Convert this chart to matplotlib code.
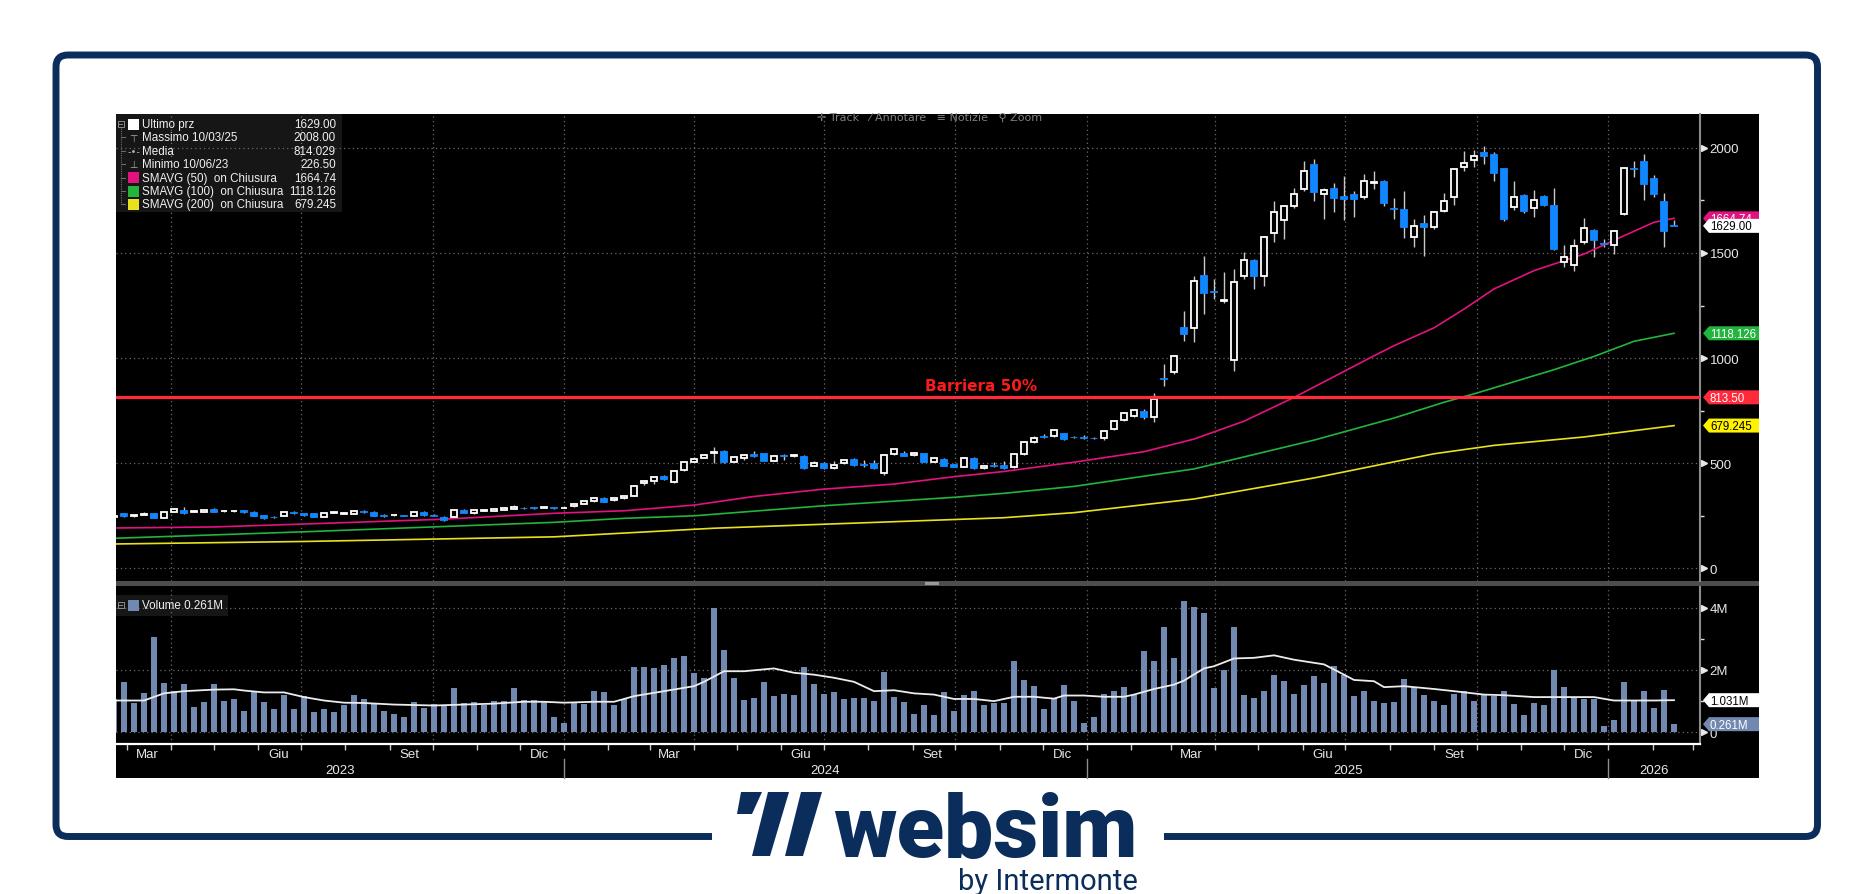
import matplotlib
matplotlib.use("Agg")
import matplotlib.pyplot as plt
from matplotlib.patches import Rectangle, FancyBboxPatch, Polygon
import numpy as np
import pandas as pd

W, H = 1874, 895

# ------------------------------------------
# dati settimanali
# ------------------------------------------
settimane = pd.date_range("2023-02-20", periods=157, freq="7D")

aperture = [243, 262, 250, 256, 262, 241, 270, 279, 269, 270, 282, 271, 271, 276, 270, 253, 245, 249, 270, 262,
            262, 244, 264, 261, 260, 275, 270, 255, 252, 253, 249, 270, 255, 246, 246, 276, 262, 273, 275, 280,
            284, 288, 292, 287, 292, 287, 295, 307, 320, 335, 323, 333, 345, 404, 417, 441, 409, 467, 508, 526,
            549, 557, 508, 524, 543, 549, 513, 537, 535, 535, 489, 502, 478, 500, 519, 495, 502, 455, 543, 547,
            538, 549, 508, 521, 495, 483, 525, 478, 490, 492, 480, 545, 600, 628, 630, 643, 626, 625, 622, 620,
            662, 706, 727, 747, 720, 905, 933, 1150, 1142, 1396, 1320, 1272, 991, 1392, 1467, 1390, 1594, 1655, 1723, 1806,
            1923, 1780, 1810, 1770, 1780, 1767, 1835, 1842, 1715, 1710, 1577, 1643, 1625, 1700, 1764, 1907, 1941, 1978, 1972, 1903,
            1720, 1777, 1716, 1773, 1726, 1455, 1442, 1552, 1609, 1549, 1539, 1687, 1905, 1936, 1857, 1748, 1632]
massimi = [252, 265, 254, 266, 265, 272, 288, 290, 275, 279, 285, 276, 276, 280, 272, 256, 248, 269, 274, 264,
           265, 264, 269, 268, 276, 278, 272, 257, 256, 255, 268, 272, 257, 248, 278, 284, 278, 281, 284, 290,
           300, 290, 294, 296, 294, 292, 309, 322, 340, 338, 335, 346, 396, 420, 436, 444, 463, 507, 528, 545,
           575, 562, 531, 544, 556, 551, 540, 545, 541, 540, 512, 505, 513, 521, 523, 514, 515, 544, 570, 556,
           553, 551, 527, 524, 498, 528, 528, 492, 505, 510, 548, 605, 628, 640, 665, 646, 630, 632, 625, 655,
           708, 745, 758, 760, 834, 972, 1012, 1222, 1392, 1487, 1376, 1408, 1424, 1503, 1472, 1582, 1749, 1729, 1808, 1939,
           1947, 1810, 1833, 1868, 1796, 1876, 1891, 1848, 1760, 1793, 1662, 1681, 1700, 1785, 1903, 1987, 1990, 2008, 1980, 1905,
           1841, 1780, 1801, 1778, 1808, 1538, 1567, 1665, 1612, 1567, 1610, 1905, 1939, 1971, 1870, 1785, 1658]
minimi = [240, 246, 243, 252, 239, 239, 268, 260, 266, 268, 266, 269, 269, 264, 247, 236, 240, 247, 260, 251,
          242, 242, 262, 258, 258, 264, 248, 245, 250, 247, 247, 251, 247, 226.5, 243, 263, 260, 271, 273, 278,
          282, 284, 284, 285, 284, 285, 293, 305, 318, 315, 321, 331, 343, 398, 400, 420, 405, 464, 505, 523,
          500, 500, 504, 515, 532, 509, 510, 515, 530, 472, 486, 472, 475, 497, 489, 480, 475, 444, 540, 533,
          535, 505, 505, 485, 480, 480, 472, 475, 484, 474, 476, 540, 596, 620, 625, 612, 618, 616, 614, 612,
          658, 700, 720, 712, 694, 866, 925, 1083, 1075, 1210, 1281, 1262, 940, 1376, 1329, 1344, 1551, 1567, 1712, 1795,
          1749, 1662, 1693, 1657, 1670, 1755, 1806, 1725, 1662, 1570, 1527, 1487, 1615, 1695, 1728, 1888, 1907, 1923, 1844, 1650,
          1706, 1690, 1673, 1725, 1515, 1435, 1413, 1545, 1482, 1530, 1495, 1683, 1860, 1754, 1768, 1527, 1627]
chiusure = [248, 249, 252, 258, 241, 270, 283, 262, 271, 276, 268, 273, 273, 266, 250, 241, 243, 266, 262, 255,
            244, 262, 266, 263, 273, 266, 250, 247, 254, 249, 266, 253, 249, 231, 276, 265, 276, 279, 282, 288,
            292, 286, 286, 294, 286, 289, 307, 320, 335, 318, 333, 343, 393, 415, 433, 425, 461, 504, 522, 541,
            553, 505, 528, 541, 536, 513, 533, 535, 537, 478, 502, 476, 494, 516, 492, 493, 478, 541, 567, 536,
            549, 508, 524, 489, 483, 525, 476, 489, 487, 478, 545, 600, 622, 626, 657, 616, 623, 622, 619, 652,
            703, 741, 752, 720, 807, 900, 1008, 1117, 1368, 1308, 1313, 1276, 1364, 1467, 1390, 1577, 1696, 1723, 1782, 1888,
            1788, 1799, 1760, 1755, 1755, 1841, 1839, 1740, 1711, 1625, 1627, 1625, 1694, 1746, 1898, 1928, 1962, 1962, 1882, 1662,
            1768, 1702, 1750, 1730, 1520, 1483, 1531, 1621, 1560, 1541, 1604, 1902, 1900, 1828, 1782, 1606, 1629]
volumi = [1.08, 1.62, 0.94, 1.25, 3.07, 1.59, 1.32, 1.56, 0.81, 0.96, 1.56, 1.00, 1.07, 0.68, 1.34, 0.96, 0.76, 1.21, 0.76, 1.16,
          0.65, 0.76, 0.65, 0.86, 1.20, 1.08, 0.91, 0.68, 0.60, 0.50, 0.96, 0.78, 0.92, 0.89, 1.43, 0.94, 0.96, 0.89, 1.00, 1.02,
          1.43, 1.05, 1.05, 0.98, 0.49, 0.31, 0.96, 0.91, 1.31, 1.29, 0.86, 1.07, 2.11, 2.11, 2.06, 2.17, 2.37, 2.45, 1.89, 1.75,
          4.00, 2.65, 1.75, 1.04, 1.10, 1.62, 1.17, 1.24, 1.20, 2.11, 1.56, 1.24, 1.30, 1.08, 1.10, 1.10, 1.00, 1.92, 1.14, 0.98,
          0.60, 0.86, 0.57, 1.29, 0.69, 1.21, 1.31, 0.86, 0.94, 0.94, 2.29, 1.68, 1.49, 0.76, 1.11, 1.52, 1.02, 0.31, 0.50, 1.23,
          1.31, 1.46, 1.21, 2.60, 2.28, 3.38, 2.40, 4.21, 4.03, 3.82, 1.43, 2.00, 3.39, 1.20, 1.11, 1.33, 1.85, 1.66, 1.23, 1.52,
          1.82, 1.59, 2.14, 1.85, 1.18, 1.34, 1.02, 0.94, 0.98, 1.71, 1.46, 1.21, 1.00, 0.89, 1.23, 1.33, 1.02, 1.23, 1.18, 1.31,
          0.91, 0.57, 0.94, 0.86, 1.99, 1.46, 1.10, 1.08, 1.08, 0.19, 0.40, 1.60, 0.99, 1.34, 0.77, 1.37, 0.261]

# medie mobili: (indice barra, valore)
sma50_idx = [0, 10, 19, 33, 44, 51, 58, 64, 71, 78, 84, 89, 96, 103, 108, 113, 118, 126, 128, 132, 135, 138, 142, 147, 151, 154, 156]
sma50_val = [192, 197, 211, 234, 262, 274, 301, 342, 377, 401, 436, 461, 505, 555, 615, 700, 813, 1011, 1059, 1144, 1233, 1329, 1416, 1495, 1582, 1646, 1665]
sma100_idx = [0, 19, 44, 51, 58, 71, 84, 89, 96, 108, 120, 128, 133, 136, 144, 148, 152, 156]
sma100_val = [143, 174, 219, 238, 250, 298, 338, 357, 390, 473, 610, 715, 790, 830, 945, 1008, 1080, 1118]
sma200_idx = [0, 19, 44, 60, 89, 96, 108, 120, 132, 138, 147, 156]
sma200_val = [116, 128, 150, 191, 241, 265, 330, 430, 545, 585, 625, 679]
volma_idx = [0, 3, 5, 7, 10, 12, 13, 15, 17, 19, 21, 23, 25, 28, 32, 35, 38, 41, 43, 45, 48, 50, 52, 55, 58, 59, 61, 63,
             66, 68, 70, 72, 74, 76, 78, 80, 82, 84, 86, 88, 90, 92, 94, 95, 97, 99, 101, 102, 104, 106, 107, 109, 110,
             112, 114, 116, 118, 121, 123, 124, 126, 127, 129, 132, 134, 137, 139, 142, 145, 148, 150, 154, 156]
volma_val = [1.02, 1.02, 1.25, 1.32, 1.37, 1.38, 1.34, 1.28, 1.28, 1.13, 1.02, 0.95, 0.94, 0.89, 0.86, 0.89, 0.92, 0.98,
             0.98, 0.95, 0.98, 0.98, 1.16, 1.32, 1.48, 1.62, 1.96, 1.96, 2.05, 1.91, 1.85, 1.75, 1.62, 1.32, 1.35, 1.25,
             1.21, 1.07, 1.07, 1.00, 1.14, 1.14, 1.08, 1.18, 1.18, 1.14, 1.14, 1.21, 1.39, 1.53, 1.66, 2.05, 2.12, 2.37,
             2.39, 2.47, 2.33, 2.18, 1.85, 1.68, 1.64, 1.45, 1.48, 1.39, 1.32, 1.21, 1.19, 1.13, 1.13, 1.13, 1.02, 1.02, 1.031]

barriera = 813.50
mesi_nomi = {3: "Mar", 6: "Giu", 9: "Set", 12: "Dic"}
anni = [2023, 2024, 2025, 2026]

legenda_nomi = ["Ultimo prz", "Massimo 10/03/25", "Media", "Minimo 10/06/23",
                "SMAVG (50)  on Chiusura", "SMAVG (100)  on Chiusura", "SMAVG (200)  on Chiusura"]
legenda_valori = ["1629.00", "2008.00", "814.029", "226.50", "1664.74", "1118.126", "679.245"]

# colori
NAVY = "#0b2d5b"
BLU = "#1187ff"
ROSA = "#e2137f"
VERDE = "#22b43c"
GIALLO = "#e8e21e"
ROSSO = "#ff2a3c"
VOLCOL = "#7189b0"
FONT = ["Liberation Sans", "DejaVu Sans"]
plt.rcParams["font.family"] = FONT


def pos(data):
    """posizione (in barre) di una data sull'asse"""
    return (pd.Timestamp(data) - settimane[0]).days / 7.0


fig = plt.figure(figsize=(W / 100, H / 100), dpi=100)
fig.patch.set_facecolor("white")

# sfondo / cornice in pixel
bg = fig.add_axes([0, 0, 1, 1])
bg.set_xlim(0, W)
bg.set_ylim(H, 0)
bg.axis("off")
bg.add_patch(FancyBboxPatch((56, 56), 1761.5, 781.5, boxstyle="round,pad=0,rounding_size=12",
                            fill=False, ec=NAVY, lw=5.0))
bg.add_patch(Rectangle((712, 820), 452, 40, fc="white", ec="none"))
bg.add_patch(Rectangle((116, 115), 1643, 664, fc="black", ec="none"))
# separatore tra i pannelli
bg.add_patch(Rectangle((116, 582), 1643, 5, fc="#4d4d4d", ec="none"))
bg.add_patch(Rectangle((925, 583), 14, 3, fc="#9a9a9a", ec="none"))

# logo
bg.add_patch(Polygon([(741, 793), (762, 793), (752, 815), (737, 815)], closed=True, fc=NAVY, ec="none"))
bg.add_patch(Polygon([(768, 793), (789, 793), (770, 857), (752, 857)], closed=True, fc=NAVY, ec="none"))
bg.add_patch(Polygon([(801, 793), (822, 793), (803, 857), (785, 857)], closed=True, fc=NAVY, ec="none"))
bg.text(1138, 857, "websim", color=NAVY, fontsize=63, fontweight="black", family="Roboto",
        ha="right", va="baseline")
bg.text(1138, 890, "by Intermonte", color=NAVY, fontsize=21, family="Roboto", ha="right", va="baseline")

# ------------------------------------------
# pannello prezzi e volumi
# ------------------------------------------
ax = fig.add_axes([116 / W, 1 - 582 / H, 1584 / W, 467 / H])
axv = fig.add_axes([116 / W, 1 - 745 / H, 1584 / W, 157 / H])
for a in (ax, axv):
    a.set_facecolor("black")
    a.set_xlim(0.2, 158.6)
    for s in ("top", "left", "bottom"):
        a.spines[s].set_visible(False)
    a.spines["right"].set_color("#8c8c8c")
    a.spines["right"].set_linewidth(1.5)
    a.yaxis.tick_right()

ax.set_ylim(-60, 2161)
axv.set_ylim(-0.376, 4.664)

# riquadro legenda (sotto la griglia)
ax.add_patch(Rectangle((0, (582 - 213) / 467), 226 / 1584, 98 / 467,
                       transform=ax.transAxes, fc="#161616", ec="none", zorder=0.5))
axv.add_patch(Rectangle((0, (745 - 617) / 157), 112 / 1584, 21 / 157,
                        transform=axv.transAxes, fc="#161616", ec="none", zorder=0.5))

x = np.arange(len(chiusure))
o = np.array(aperture, float)
c = np.array(chiusure, float)
hi = np.array(massimi, float)
lo = np.array(minimi, float)
su = c >= o
corpo = np.maximum(np.abs(c - o), 0.5)
base = np.minimum(o, c)

ax.vlines(x, lo, hi, color="#c8c8c8", lw=1.0, zorder=2)
ax.bar(x[su], corpo[su], bottom=base[su], width=0.62, fc="black", ec="white", lw=1.3, zorder=3)
ax.bar(x[~su], corpo[~su], bottom=base[~su], width=0.7, fc=BLU, ec=BLU, lw=0.6, zorder=3)

ax.plot(sma200_idx, sma200_val, color=GIALLO, lw=1.2, zorder=2.5)
ax.plot(sma100_idx, sma100_val, color=VERDE, lw=1.2, zorder=2.5)
ax.plot(sma50_idx, sma50_val, color=ROSA, lw=1.2, zorder=2.5)
ax.axhline(barriera, color=ROSSO, lw=2.3, zorder=4)
ax.text(pos("2024-10-19"), 872, "Barriera 50%", color="#ff1a1a", fontsize=11, family="DejaVu Sans",
        fontweight="bold", ha="center", va="center", zorder=5)

# griglia
trimestri = pd.date_range("2023-04-01", "2026-01-01", freq="QS")
for a in (ax, axv):
    for t in trimestri:
        a.axvline(pos(t), color="#6a6a6a", lw=0.9, ls=(0, (1, 2.5)), zorder=1)

ax.set_yticks([0, 500, 1000, 1500, 2000])
ax.set_yticks([250, 750, 1250, 1750], minor=True)
ax.grid(axis="y", which="major", color="#6a6a6a", lw=0.9, ls=(0, (1, 2.5)), zorder=1)
ax.set_xticks([])

axv.set_yticks([0, 2, 4])
axv.set_yticklabels(["0", "2M", "4M"])
axv.set_yticks([1, 3], minor=True)
axv.grid(axis="y", which="major", color="#6a6a6a", lw=0.9, ls=(0, (1, 2.5)), zorder=1)

for a in (ax, axv):
    a.tick_params(axis="y", which="major", length=0, pad=7, labelcolor="#e8e8e8", labelsize=9.5)
    a.tick_params(axis="y", which="minor", length=3, width=1, color="#dddddd")
    a.plot(np.full(len(a.get_yticks()), 1.0 + 4 / 1584), a.get_yticks(), ls="none", marker=">",
           ms=5, color="#e8e8e8", transform=a.get_yaxis_transform(), clip_on=False)

# volumi
axv.bar(x, volumi, width=0.6, color=VOLCOL, zorder=2)
axv.plot(volma_idx, volma_val, color="#ececec", lw=1.3, zorder=3)

axv.spines["bottom"].set_visible(True)
axv.spines["bottom"].set_color("white")
axv.spines["bottom"].set_linewidth(1.6)
inizi = pd.date_range("2023-03-01", "2026-03-01", freq="MS")
axv.set_xticks([pos(t) for t in inizi])
axv.set_xticklabels([""] * len(inizi))
axv.tick_params(axis="x", which="major", length=4, width=1, color="#cccccc")
meta = [t + pd.Timedelta(days=14) for t in inizi if t.month in mesi_nomi and t.year < 2026]
axv.set_xticks([pos(t) for t in meta], minor=True)
axv.set_xticklabels([mesi_nomi[t.month] for t in meta], minor=True)
axv.tick_params(axis="x", which="minor", length=0, pad=3, labelcolor="#e8e8e8", labelsize=9.5)

tr = axv.get_xaxis_transform()
lim_sx, lim_dx = axv.get_xlim()
confini = [lim_sx] + [pos(f"{a}-01-01") for a in anni[1:]] + [lim_dx]
for i, a in enumerate(anni):
    axv.text((confini[i] + confini[i + 1]) / 2, -0.166, str(a), transform=tr, color="#e8e8e8",
             fontsize=9.5, ha="center", va="center")
for b in confini[1:-1]:
    axv.plot([b, b], [-0.095, -0.217], transform=tr, color="#8c8c8c", lw=1, clip_on=False)

# ------------------------------------------
# sovrapposizioni: legende e etichette a destra
# ------------------------------------------
ov = fig.add_axes([0, 0, 1, 1])
ov.set_xlim(0, W)
ov.set_ylim(H, 0)
ov.axis("off")
ov.patch.set_alpha(0)


def y_pix(a, v):
    return H - a.transData.transform((0, v))[1]


def etichetta(a, v, testo, sfondo, colore):
    y = y_pix(a, v)
    ov.add_patch(Polygon([(1703, y), (1709, y - 7), (1759, y - 7), (1759, y + 7), (1709, y + 7)],
                         closed=True, fc=sfondo, ec="none"))
    ov.text(1710, y + 0.5, testo, color=colore, fontsize=8.3, ha="left", va="center")


etichetta(ax, float(legenda_valori[4]), legenda_valori[4], ROSA, "white")
etichetta(ax, chiusure[-1], legenda_valori[0], "white", "black")
etichetta(ax, float(legenda_valori[5]), legenda_valori[5], VERDE, "white")
etichetta(ax, barriera, f"{barriera:.2f}", ROSSO, "white")
etichetta(ax, float(legenda_valori[6]), legenda_valori[6], "#fff200", "black")
etichetta(axv, volma_val[-1], f"{volma_val[-1]:.3f}M", "white", "black")
etichetta(axv, volumi[-1], f"{volumi[-1]:.3f}M", VOLCOL, "white")


def comprimi(xc, yc):
    ov.add_patch(Rectangle((xc - 3, yc - 3), 6, 6, fc="none", ec="#8a8a8a", lw=0.7))
    ov.plot([xc - 1.5, xc + 1.5], [yc, yc], color="#8a8a8a", lw=0.7)


# legenda prezzi
righe_y = [125 + i * 13.4 for i in range(len(legenda_nomi))]
ov.plot([121, 121], [129, righe_y[-1]], color="#6a6a6a", lw=0.8, ls=(0, (1, 1)))
comprimi(121, 125)
col_icone = ["white", None, None, None, ROSA, VERDE, GIALLO]
simboli = [None, "\u22a4", "-\u2022-", "\u22a5", None, None, None]
for i, (nome, val) in enumerate(zip(legenda_nomi, legenda_valori)):
    y = righe_y[i]
    if i > 0:
        ov.plot([121, 125], [y, y], color="#6a6a6a", lw=0.8)
    if col_icone[i]:
        ov.add_patch(Rectangle((128, y - 5.5), 11, 11, fc=col_icone[i], ec="none"))
    else:
        ov.text(133.5, y, simboli[i], color="#aaaaaa", fontsize=7, family="DejaVu Sans",
                ha="center", va="center")
    ov.text(142, y, nome, color="#f0f0f0", fontsize=8.4, ha="left", va="center")
    ov.text(336, y, val, color="#f0f0f0", fontsize=8.4, ha="right", va="center")

# legenda volumi
comprimi(121, 606)
ov.add_patch(Rectangle((128, 600.5), 11, 11, fc=VOLCOL, ec="none"))
ov.text(142, 606, "Volume 0.261M", color="#f0f0f0", fontsize=8.4, ha="left", va="center")

# barra strumenti in alto
ov.text(930, 118, "\u271b Track   \u2044 Annotare   \u2261 Notizie   \u26b2 Zoom", color="#808080",
        fontsize=8, family=["DejaVu Sans", "Noto Sans CJK SC"], ha="center", va="center")

fig.savefig("out.png", dpi=100, facecolor="white")
